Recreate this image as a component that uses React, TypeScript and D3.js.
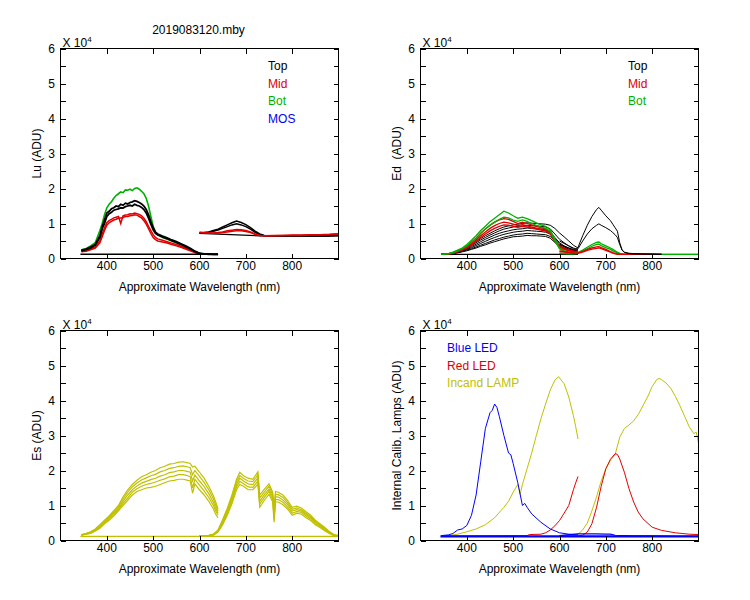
import * as d3 from 'd3';

const title = '2019083120.mby';
const xLabel = 'Approximate Wavelength (nm)';
const xTicks = [400, 500, 600, 700, 800];
const yTickLabels = [0, 1, 2, 3, 4, 5, 6];
const wlDomain: [number, number] = [300, 900];
const adcDomain: [number, number] = [0, 6];

const BLACK = '#000000';
const RED = '#e00000';
const GREEN = '#00b000';
const BLUE = '#0000ff';
const YELLOW = '#c0c000';

// ---- Lu (upwelling radiance) ----
const luVisNm = [345, 355, 365, 375, 385, 390, 395, 400, 405, 410, 415, 420, 425, 430, 435, 440, 445, 450, 455, 460, 465, 470, 475, 480, 485, 490, 495, 500, 505, 510, 520, 530, 540, 550, 560, 570, 580, 590, 600, 610, 620, 630, 640];
const luBot = [0.25, 0.28, 0.36, 0.45, 0.8, 1.0, 1.25, 1.45, 1.55, 1.62, 1.72, 1.8, 1.85, 1.9, 1.88, 1.96, 1.95, 1.98, 1.94, 2.0, 2.02, 1.98, 1.92, 1.85, 1.72, 1.5, 1.2, 0.92, 0.75, 0.68, 0.6, 0.55, 0.5, 0.45, 0.4, 0.34, 0.27, 0.2, 0.15, 0.13, 0.13, 0.12, 0.12];
const luTopA = [0.24, 0.27, 0.33, 0.4, 0.65, 0.9, 1.1, 1.3, 1.35, 1.42, 1.45, 1.5, 1.48, 1.55, 1.52, 1.58, 1.56, 1.6, 1.62, 1.65, 1.63, 1.6, 1.56, 1.5, 1.4, 1.25, 1.05, 0.88, 0.75, 0.7, 0.64, 0.59, 0.53, 0.48, 0.42, 0.36, 0.29, 0.21, 0.15, 0.13, 0.13, 0.12, 0.12];
const luTopB = [0.22, 0.25, 0.3, 0.38, 0.6, 0.85, 1.0, 1.2, 1.28, 1.32, 1.38, 1.4, 1.42, 1.45, 1.44, 1.48, 1.5, 1.52, 1.5, 1.55, 1.52, 1.5, 1.46, 1.4, 1.3, 1.15, 0.98, 0.82, 0.72, 0.67, 0.62, 0.57, 0.51, 0.46, 0.4, 0.34, 0.27, 0.2, 0.14, 0.13, 0.12, 0.12, 0.12];
const luMidA = [0.2, 0.22, 0.27, 0.33, 0.5, 0.7, 0.88, 1.02, 1.08, 1.12, 1.16, 1.18, 1.2, 1.0, 1.22, 1.24, 1.25, 1.28, 1.27, 1.3, 1.28, 1.26, 1.22, 1.15, 1.05, 0.92, 0.8, 0.68, 0.6, 0.56, 0.52, 0.48, 0.44, 0.4, 0.35, 0.3, 0.24, 0.18, 0.13, 0.12, 0.12, 0.12, 0.12];
const luMidB = [0.19, 0.21, 0.25, 0.3, 0.45, 0.62, 0.8, 0.95, 1.02, 1.06, 1.1, 1.12, 1.15, 1.16, 1.17, 1.2, 1.2, 1.22, 1.23, 1.25, 1.24, 1.2, 1.16, 1.08, 0.98, 0.85, 0.72, 0.6, 0.54, 0.5, 0.47, 0.44, 0.4, 0.36, 0.32, 0.27, 0.22, 0.17, 0.13, 0.12, 0.12, 0.12, 0.12];
const luDarkVisNm = [343, 640];
const luDarkVis = [0.12, 0.12];

const luNirNm = [600, 610, 620, 630, 640, 650, 660, 670, 680, 690, 700, 710, 720, 730, 740, 760, 780, 800, 820, 840, 860, 880, 900];
const luNirTopA = [0.73, 0.74, 0.76, 0.8, 0.84, 0.9, 0.96, 1.02, 1.07, 1.03, 0.97, 0.88, 0.78, 0.7, 0.66, 0.65, 0.65, 0.65, 0.65, 0.65, 0.65, 0.65, 0.66];
const luNirTopB = [0.72, 0.73, 0.75, 0.78, 0.81, 0.86, 0.91, 0.96, 0.99, 0.96, 0.91, 0.84, 0.75, 0.68, 0.65, 0.65, 0.64, 0.64, 0.64, 0.64, 0.64, 0.64, 0.65];
const luNirMidA = [0.75, 0.74, 0.73, 0.73, 0.74, 0.76, 0.79, 0.81, 0.83, 0.82, 0.8, 0.76, 0.7, 0.66, 0.65, 0.66, 0.66, 0.67, 0.67, 0.68, 0.68, 0.69, 0.71];
const luNirMidB = [0.74, 0.73, 0.72, 0.72, 0.72, 0.74, 0.76, 0.78, 0.79, 0.79, 0.77, 0.74, 0.69, 0.66, 0.65, 0.65, 0.66, 0.66, 0.66, 0.67, 0.67, 0.68, 0.7];
const luDarkNirNm = [600, 730, 880];
const luDarkNir = [0.72, 0.65, 0.65];

// ---- Ed (downwelling irradiance) ----
const edVisNm = [345, 360, 370, 380, 390, 400, 410, 420, 430, 440, 450, 460, 470, 480, 490, 500, 510, 520, 530, 540, 550, 560, 570, 580, 590, 600, 610, 620, 630, 640];
const edTop1 = [0.12, 0.14, 0.17, 0.21, 0.26, 0.32, 0.4, 0.48, 0.57, 0.65, 0.72, 0.79, 0.85, 0.9, 0.93, 0.96, 0.98, 1.0, 1.02, 1.01, 1.0, 0.99, 0.98, 0.95, 0.86, 0.73, 0.62, 0.5, 0.38, 0.3];
const edTop2 = [0.12, 0.13, 0.16, 0.2, 0.25, 0.3, 0.37, 0.45, 0.53, 0.6, 0.67, 0.73, 0.79, 0.84, 0.87, 0.9, 0.92, 0.93, 0.95, 0.94, 0.93, 0.92, 0.9, 0.85, 0.7, 0.55, 0.45, 0.36, 0.3, 0.26];
const edTop3 = [0.12, 0.13, 0.15, 0.19, 0.23, 0.28, 0.34, 0.41, 0.48, 0.55, 0.61, 0.67, 0.72, 0.76, 0.79, 0.82, 0.84, 0.85, 0.87, 0.86, 0.85, 0.84, 0.82, 0.76, 0.6, 0.45, 0.36, 0.3, 0.25, 0.22];
const edTop4 = [0.12, 0.13, 0.15, 0.18, 0.22, 0.26, 0.31, 0.37, 0.43, 0.49, 0.55, 0.6, 0.65, 0.69, 0.72, 0.75, 0.77, 0.78, 0.8, 0.79, 0.78, 0.77, 0.75, 0.7, 0.55, 0.42, 0.33, 0.27, 0.23, 0.2];
const edTop5 = [0.12, 0.13, 0.14, 0.17, 0.2, 0.24, 0.28, 0.33, 0.38, 0.43, 0.48, 0.53, 0.57, 0.61, 0.64, 0.67, 0.69, 0.7, 0.72, 0.71, 0.7, 0.69, 0.68, 0.63, 0.5, 0.38, 0.3, 0.25, 0.21, 0.19];
const edTop6 = [0.12, 0.13, 0.14, 0.16, 0.19, 0.22, 0.26, 0.3, 0.35, 0.39, 0.44, 0.48, 0.52, 0.56, 0.59, 0.62, 0.63, 0.64, 0.66, 0.65, 0.65, 0.64, 0.63, 0.58, 0.46, 0.36, 0.28, 0.24, 0.2, 0.18];
const edMid1 = [0.12, 0.13, 0.16, 0.21, 0.27, 0.35, 0.46, 0.58, 0.72, 0.84, 0.95, 1.04, 1.1, 1.14, 1.12, 1.06, 1.0, 1.04, 1.0, 0.96, 0.92, 0.88, 0.84, 0.76, 0.52, 0.36, 0.29, 0.25, 0.22, 0.2];
const edMid2 = [0.12, 0.13, 0.15, 0.2, 0.25, 0.32, 0.42, 0.53, 0.65, 0.76, 0.86, 0.94, 1.0, 1.04, 1.02, 0.98, 0.94, 0.97, 0.94, 0.9, 0.87, 0.84, 0.8, 0.72, 0.5, 0.34, 0.27, 0.23, 0.2, 0.19];
const edMid3 = [0.12, 0.13, 0.15, 0.19, 0.24, 0.3, 0.39, 0.49, 0.6, 0.7, 0.79, 0.86, 0.92, 0.96, 0.95, 0.92, 0.89, 0.92, 0.9, 0.87, 0.84, 0.81, 0.78, 0.7, 0.48, 0.33, 0.26, 0.22, 0.19, 0.18];
const edBot1 = [0.12, 0.14, 0.18, 0.24, 0.3, 0.4, 0.52, 0.65, 0.8, 0.92, 1.05, 1.15, 1.25, 1.35, 1.3, 1.22, 1.15, 1.18, 1.14, 1.08, 1.02, 0.96, 0.92, 0.82, 0.55, 0.3, 0.22, 0.18, 0.16, 0.15];
const edBot2 = [0.12, 0.13, 0.17, 0.22, 0.28, 0.36, 0.47, 0.58, 0.72, 0.84, 0.95, 1.04, 1.12, 1.18, 1.16, 1.1, 1.06, 1.1, 1.06, 1.0, 0.95, 0.9, 0.86, 0.78, 0.5, 0.28, 0.2, 0.17, 0.15, 0.14];
const edDarkVisNm = [345, 640];
const edDarkVis = [0.12, 0.12];

const edNirNm = [600, 620, 630, 635, 640, 650, 660, 670, 680, 685, 690, 700, 710, 715, 720, 725, 730, 735, 740, 750, 760, 780, 800, 820, 860, 900];
const edNirTop1 = [0.5, 0.36, 0.28, 0.25, 0.32, 0.65, 0.95, 1.2, 1.4, 1.46, 1.38, 1.22, 1.08, 0.98, 0.88, 0.78, 0.45, 0.25, 0.18, 0.15, 0.14, 0.13, 0.13, 0.12, null, null];
const edNirTop2 = [0.4, 0.3, 0.25, 0.23, 0.28, 0.5, 0.7, 0.85, 0.95, 0.99, 0.95, 0.88, 0.8, 0.74, 0.68, 0.6, 0.4, 0.24, 0.17, 0.14, 0.13, 0.13, 0.12, 0.12, null, null];
const edNirMid1 = [0.22, 0.18, 0.16, 0.15, 0.16, 0.2, 0.26, 0.3, 0.33, 0.34, 0.31, 0.26, 0.2, 0.17, 0.15, 0.13, 0.12, 0.12, 0.12, 0.12, 0.12, 0.12, 0.12, 0.12, null, null];
const edNirMid2 = [0.2, 0.17, 0.15, 0.14, 0.15, 0.18, 0.23, 0.27, 0.29, 0.3, 0.28, 0.23, 0.18, 0.15, 0.13, 0.12, 0.12, 0.12, 0.12, 0.12, 0.12, 0.12, 0.12, 0.12, null, null];
const edNirBot1 = [0.15, 0.14, 0.14, 0.15, 0.17, 0.24, 0.32, 0.4, 0.46, 0.47, 0.42, 0.36, 0.3, 0.26, 0.22, 0.18, 0.15, 0.13, 0.12, 0.12, 0.12, 0.12, 0.12, 0.12, 0.12, 0.12];
const edNirBot2 = [0.14, 0.13, 0.13, 0.14, 0.16, 0.21, 0.28, 0.35, 0.4, 0.41, 0.37, 0.31, 0.26, 0.22, 0.19, 0.16, 0.14, 0.13, 0.12, 0.12, 0.12, 0.12, 0.12, 0.12, 0.12, 0.12];

// ---- Es (surface irradiance) ----
const esVisNm = [345, 355, 365, 375, 385, 395, 405, 415, 425, 435, 445, 455, 465, 475, 485, 495, 505, 515, 525, 535, 545, 555, 565, 575, 580, 585, 590, 600, 610, 620, 630, 635, 640];
const esVis1 = [0.17, 0.2, 0.25, 0.33, 0.45, 0.58, 0.7, 0.85, 1.0, 1.25, 1.45, 1.6, 1.72, 1.82, 1.88, 1.95, 2.0, 2.08, 2.12, 2.18, 2.2, 2.24, 2.25, 2.22, 2.2, 2.1, 2.12, 1.95, 1.78, 1.55, 1.28, 1.1, 0.9];
const esVis2 = [0.16, 0.2, 0.24, 0.32, 0.43, 0.56, 0.67, 0.82, 0.96, 1.19, 1.38, 1.53, 1.64, 1.73, 1.79, 1.85, 1.89, 1.96, 2.0, 2.06, 2.08, 2.12, 2.13, 2.1, 2.08, 1.88, 2.0, 1.83, 1.66, 1.45, 1.19, 1.01, 0.84];
const esVis3 = [0.16, 0.19, 0.22, 0.3, 0.4, 0.53, 0.64, 0.78, 0.92, 1.12, 1.3, 1.45, 1.56, 1.64, 1.69, 1.74, 1.78, 1.84, 1.88, 1.94, 1.96, 2.0, 2.0, 1.97, 1.95, 1.7, 1.87, 1.7, 1.54, 1.34, 1.09, 0.92, 0.78];
const esVis4 = [0.15, 0.18, 0.21, 0.28, 0.37, 0.5, 0.61, 0.74, 0.88, 1.06, 1.22, 1.38, 1.48, 1.55, 1.6, 1.63, 1.67, 1.72, 1.76, 1.82, 1.84, 1.88, 1.88, 1.85, 1.82, 1.5, 1.75, 1.58, 1.42, 1.23, 1.0, 0.84, 0.72];
const esVis5 = [0.15, 0.18, 0.2, 0.27, 0.35, 0.48, 0.58, 0.7, 0.85, 1.0, 1.15, 1.3, 1.4, 1.45, 1.5, 1.52, 1.55, 1.6, 1.65, 1.7, 1.72, 1.75, 1.75, 1.72, 1.7, 1.35, 1.62, 1.45, 1.3, 1.12, 0.9, 0.75, 0.65];

const esNirNm = [600, 620, 630, 640, 650, 660, 670, 680, 687, 695, 705, 715, 722, 726, 730, 740, 750, 758, 761, 764, 770, 780, 790, 800, 810, 820, 830, 840, 850, 860, 870, 880, 890, 900];
const esNir1 = [0.14, 0.15, 0.18, 0.3, 0.6, 0.92, 1.3, 1.75, 1.95, 1.85, 1.78, 1.75, 1.88, 1.96, 1.3, 1.47, 1.62, 1.38, 0.9, 1.4, 1.38, 1.3, 1.15, 0.95, 0.98, 0.93, 0.82, 0.72, 0.58, 0.48, 0.38, 0.26, 0.17, 0.14];
const esNir2 = [0.14, 0.15, 0.17, 0.29, 0.56, 0.87, 1.24, 1.68, 1.86, 1.77, 1.7, 1.68, 1.8, 1.88, 1.21, 1.39, 1.55, 1.31, 0.8, 1.32, 1.31, 1.23, 1.09, 0.89, 0.93, 0.88, 0.78, 0.68, 0.55, 0.45, 0.35, 0.25, 0.16, 0.14];
const esNir3 = [0.13, 0.14, 0.17, 0.27, 0.52, 0.82, 1.18, 1.6, 1.78, 1.7, 1.62, 1.6, 1.72, 1.79, 1.12, 1.31, 1.47, 1.24, 0.68, 1.25, 1.24, 1.16, 1.03, 0.84, 0.88, 0.84, 0.74, 0.65, 0.52, 0.42, 0.33, 0.23, 0.15, 0.13];
const esNir4 = [0.13, 0.14, 0.16, 0.26, 0.49, 0.77, 1.11, 1.53, 1.69, 1.62, 1.53, 1.52, 1.63, 1.7, 1.04, 1.23, 1.4, 1.17, 0.6, 1.17, 1.17, 1.09, 0.96, 0.78, 0.83, 0.8, 0.7, 0.61, 0.48, 0.4, 0.3, 0.22, 0.15, 0.13];
const esNir5 = [0.13, 0.14, 0.15, 0.24, 0.45, 0.72, 1.05, 1.45, 1.6, 1.55, 1.45, 1.45, 1.55, 1.62, 0.95, 1.15, 1.32, 1.1, 0.52, 1.1, 1.1, 1.02, 0.9, 0.72, 0.78, 0.75, 0.65, 0.57, 0.45, 0.37, 0.28, 0.2, 0.14, 0.13];
const esDarkNm = [343, 900];
const esDark = [0.12, 0.12];

// ---- internal calibration lamps ----
const blueVisNm = [345, 360, 370, 380, 390, 400, 410, 420, 430, 440, 450, 455, 460, 465, 470, 480, 490, 495, 500, 510, 520, 525, 530, 540, 560, 580, 600, 620, 640];
const blueVis = [0.14, 0.16, 0.2, 0.3, 0.33, 0.43, 0.72, 1.3, 2.25, 3.2, 3.65, 3.72, 3.9, 3.8, 3.55, 3.0, 2.5, 2.45, 2.2, 1.65, 1.0, 1.06, 0.95, 0.76, 0.52, 0.33, 0.22, 0.18, 0.16];
const blueNirNm = [600, 620, 640, 660, 680, 700, 710, 720, 740, 760, 800, 850, 900];
const blueNir = [0.14, 0.17, 0.19, 0.19, 0.19, 0.18, 0.18, 0.15, 0.14, 0.13, 0.13, 0.12, 0.12];
const blueDarkNm = [343, 900];
const blueDark = [0.12, 0.12];
const redVisNm = [345, 400, 530, 535, 560, 570, 580, 590, 600, 610, 620, 630, 635, 640];
const redVis = [0.13, 0.13, 0.14, 0.17, 0.18, 0.22, 0.3, 0.42, 0.57, 0.78, 1.0, 1.45, 1.65, 1.83];
const redNirNm = [600, 640, 650, 660, 670, 680, 690, 700, 710, 720, 725, 730, 740, 750, 760, 770, 780, 800, 820, 850, 880, 900];
const redNir = [0.13, 0.13, 0.15, 0.24, 0.48, 0.95, 1.55, 2.05, 2.32, 2.48, 2.46, 2.33, 1.95, 1.48, 1.1, 0.81, 0.62, 0.38, 0.29, 0.22, 0.18, 0.17];
const lampVisNm = [345, 360, 380, 400, 420, 440, 460, 480, 490, 500, 510, 515, 520, 530, 540, 550, 560, 570, 580, 590, 598, 610, 620, 630, 635, 640];
const lampVis = [0.12, 0.14, 0.18, 0.25, 0.33, 0.45, 0.65, 0.95, 1.12, 1.38, 1.6, 1.32, 1.6, 2.05, 2.5, 3.0, 3.48, 3.9, 4.3, 4.58, 4.68, 4.48, 4.1, 3.57, 3.25, 2.9];
const lampNirNm = [600, 630, 640, 650, 660, 670, 680, 690, 700, 710, 720, 730, 740, 750, 760, 770, 780, 790, 800, 810, 815, 820, 830, 840, 850, 860, 870, 880, 890, 895, 900];
const lampNir = [0.12, 0.13, 0.18, 0.3, 0.5, 0.85, 1.25, 1.7, 2.05, 2.3, 2.45, 2.95, 3.2, 3.3, 3.42, 3.6, 3.85, 4.1, 4.4, 4.6, 4.63, 4.6, 4.5, 4.35, 4.12, 3.85, 3.55, 3.25, 3.05, 3.1, 2.78];

type Series = { nm: number[]; v: (number | null)[]; color: string; width?: number };
type LegendItem = { text: string; color: string };

const FONT = '"Liberation Sans", Arial, sans-serif';

interface PanelProps {
  left: number;
  top: number;
  w: number;
  h: number;
  yLabel: string;
  series: Series[];
  legend: LegendItem[];
  legendDx: number;
}

function Panel({ left, top, w, h, yLabel, series, legend, legendDx }: PanelProps) {
  const x = d3.scaleLinear().domain(wlDomain).range([left, left + w]);
  const y = d3.scaleLinear().domain(adcDomain).range([top + h, top]);
  const clipId = `clip-${left}-${top}`;
  const halfTicks = y.ticks(12);

  const makePath = (s: Series) =>
    d3
      .line<[number, number | null]>()
      .defined((d) => d[1] != null)
      .x((d) => x(d[0]))
      .y((d) => y(d[1] as number))(s.nm.map((n, i) => [n, s.v[i]] as [number, number | null])) ?? '';

  return (
    <g>
      <defs>
        <clipPath id={clipId}>
          <rect x={left} y={top} width={w} height={h} />
        </clipPath>
      </defs>
      <g clipPath={`url(#${clipId})`}>
        {series.map((s, i) => (
          <path key={i} d={makePath(s)} fill="none" stroke={s.color} strokeWidth={s.width ?? 1} />
        ))}
      </g>
      <rect x={left} y={top} width={w} height={h} fill="none" stroke="#000" strokeWidth={1} shapeRendering="crispEdges" />
      {halfTicks.map((t) => (
        <g key={t} shapeRendering="crispEdges" stroke="#000">
          <line x1={left} x2={left + 5} y1={Math.round(y(t)) + 0.5} y2={Math.round(y(t)) + 0.5} />
          <line x1={left + w - 5} x2={left + w} y1={Math.round(y(t)) + 0.5} y2={Math.round(y(t)) + 0.5} />
        </g>
      ))}
      {xTicks.map((t) => (
        <g key={t} shapeRendering="crispEdges" stroke="#000">
          <line x1={Math.round(x(t)) + 0.5} x2={Math.round(x(t)) + 0.5} y1={top} y2={top + 5} />
          <line x1={Math.round(x(t)) + 0.5} x2={Math.round(x(t)) + 0.5} y1={top + h - 5} y2={top + h} />
        </g>
      ))}
      {yTickLabels.map((t) => (
        <text key={t} x={left - 5.5} y={y(t) + 4.5} textAnchor="end" fontSize={12}>
          {t}
        </text>
      ))}
      {xTicks.map((t) => (
        <text key={t} x={x(t)} y={top + h + 11} textAnchor="middle" fontSize={12}>
          {t}
        </text>
      ))}
      <text x={left + 2} y={top - 2} fontSize={12}>
        X 10<tspan fontSize={8} dy={-5}>4</tspan>
      </text>
      <text
        transform={`translate(${left - 19.5},${top + h / 2}) rotate(-90)`}
        textAnchor="middle"
        fontSize={12}
        style={{ whiteSpace: 'pre' }}
      >
        {yLabel}
      </text>
      <text x={left + w / 2} y={top + h + 32.5} textAnchor="middle" fontSize={12}>
        {xLabel}
      </text>
      {legend.map((l, i) => (
        <text key={l.text} x={left + legendDx} y={top + 21.7 + i * 17.5} fontSize={12} fill={l.color}>
          {l.text}
        </text>
      ))}
    </g>
  );
}

const s = (nm: number[], v: (number | null)[], color: string, width = 1): Series => ({ nm, v, color, width });

// black drawn last in the visible range so the dark tail at 600-640 stays black
const luSeries: Series[] = [
  s(luVisNm, luBot, GREEN, 1.6),
  s(luVisNm, luMidA, RED, 1.5),
  s(luVisNm, luMidB, RED, 1.5),
  s(luDarkVisNm, luDarkVis, BLACK, 1.5),
  s(luVisNm, luTopA, BLACK, 1.8),
  s(luVisNm, luTopB, BLACK, 1.8),
  s(luDarkNirNm, luDarkNir, BLACK, 1.3),
  s(luNirNm, luNirTopA, BLACK, 1.5),
  s(luNirNm, luNirTopB, BLACK, 1.5),
  s(luNirNm, luNirMidA, RED, 1.5),
  s(luNirNm, luNirMidB, RED, 1.5),
];

const edSeries: Series[] = [
  s(edDarkVisNm, edDarkVis, BLACK, 1.3),
  s(edVisNm, edTop1, BLACK),
  s(edVisNm, edTop2, BLACK),
  s(edVisNm, edTop3, BLACK),
  s(edVisNm, edTop4, BLACK),
  s(edVisNm, edTop5, BLACK),
  s(edVisNm, edTop6, BLACK),
  s(edVisNm, edMid1, RED, 1.3),
  s(edVisNm, edMid2, RED, 1.3),
  s(edVisNm, edMid3, RED, 1.3),
  s(edVisNm, edBot1, GREEN, 1.3),
  s(edVisNm, edBot2, GREEN, 1.3),
  s(edNirNm, edNirBot1, GREEN, 1.3),
  s(edNirNm, edNirBot2, GREEN, 1.3),
  s(edNirNm, edNirMid1, RED, 1.3),
  s(edNirNm, edNirMid2, RED, 1.3),
  s(edNirNm, edNirTop1, BLACK),
  s(edNirNm, edNirTop2, BLACK),
];

const esSeries: Series[] = [
  s(esDarkNm, esDark, YELLOW, 1.3),
  s(esVisNm, esVis1, YELLOW, 1.2),
  s(esVisNm, esVis2, YELLOW, 1.2),
  s(esVisNm, esVis3, YELLOW, 1.2),
  s(esVisNm, esVis4, YELLOW, 1.2),
  s(esVisNm, esVis5, YELLOW, 1.2),
  s(esNirNm, esNir1, YELLOW, 1.2),
  s(esNirNm, esNir2, YELLOW, 1.2),
  s(esNirNm, esNir3, YELLOW, 1.2),
  s(esNirNm, esNir4, YELLOW, 1.2),
  s(esNirNm, esNir5, YELLOW, 1.2),
];

const calSeries: Series[] = [
  s(lampVisNm, lampVis, YELLOW),
  s(lampNirNm, lampNir, YELLOW),
  s(redVisNm, redVis, RED),
  s(redNirNm, redNir, RED),
  s(blueNirNm, blueNir, BLUE, 1.2),
  s(blueDarkNm, blueDark, BLUE, 2.2),
  s(blueVisNm, blueVis, BLUE),
];

export default function App() {
  return (
    <svg
      width={750}
      height={600}
      viewBox="0 0 750 600"
      style={{ position: 'absolute', left: 0, top: 0, background: '#fff', fontFamily: FONT }}
    >
      <rect width={750} height={600} fill="#fff" />
      <text x={198.5} y={34} textAnchor="middle" fontSize={12}>
        {title}
      </text>
      <Panel
        left={60.5}
        top={48.5}
        w={278}
        h={210}
        yLabel="Lu (ADU)"
        series={luSeries}
        legend={[
          { text: 'Top', color: BLACK },
          { text: 'Mid', color: RED },
          { text: 'Bot', color: GREEN },
          { text: 'MOS', color: BLUE },
        ]}
        legendDx={207.6}
      />
      <Panel
        left={420.5}
        top={48.5}
        w={278}
        h={210}
        yLabel="Ed  (ADU)"
        series={edSeries}
        legend={[
          { text: 'Top', color: BLACK },
          { text: 'Mid', color: RED },
          { text: 'Bot', color: GREEN },
        ]}
        legendDx={207.6}
      />
      <Panel left={60.5} top={330.5} w={278} h={210} yLabel="Es (ADU)" series={esSeries} legend={[]} legendDx={0} />
      <Panel
        left={420.5}
        top={330.5}
        w={278}
        h={210}
        yLabel="Internal Calib. Lamps (ADU)"
        series={calSeries}
        legend={[
          { text: 'Blue LED', color: BLUE },
          { text: 'Red LED', color: RED },
          { text: 'Incand LAMP', color: YELLOW },
        ]}
        legendDx={26.6}
      />
    </svg>
  );
}
